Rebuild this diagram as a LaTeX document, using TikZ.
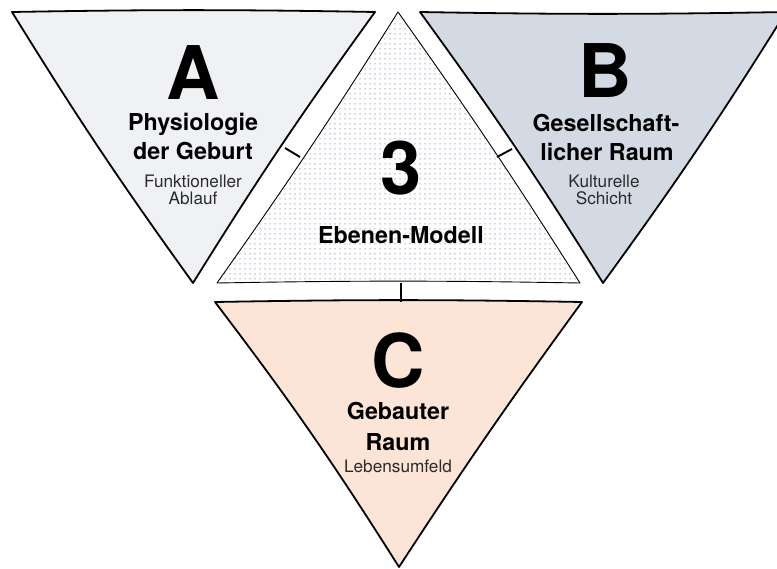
\documentclass[tikz,border=0pt]{standalone}
\usepackage{fontspec}
\setmainfont{TeX Gyre Heros}
\usetikzlibrary{patterns.meta}
\definecolor{fillA}{HTML}{EFF1F5}
\definecolor{fillB}{HTML}{D4DAE4}
\definecolor{fillC}{HTML}{FCE4D6}
\definecolor{dotc}{HTML}{9CA8C0}
\definecolor{subc}{HTML}{2B2B2B}
\begin{document}
\begin{tikzpicture}[x=1pt,y=-1pt,
  tri/.style={draw=black, line width=1.8pt, line join=round},
  midtri/.style={draw=black, line width=0.9pt, line join=round},
  link/.style={draw=black, line width=1.9pt},
  big/.style={anchor=base, inner sep=0pt, font=\bfseries\fontsize{74}{80}\selectfont},
  ttl/.style={anchor=base, inner sep=0pt, font=\bfseries\fontsize{23.3}{27}\selectfont},
  sub/.style={anchor=base, inner sep=0pt, text=subc, font=\fontsize{17.2}{19}\selectfont}]
\useasboundingbox (0,0) rectangle (777,569);
\begin{scope}
\clip (0,0) rectangle (777,569);
% corners
\coordinate (A1) at (12,12);  \coordinate (A2) at (375,12);  \coordinate (A3) at (193,283);
\coordinate (M1) at (217,283); \coordinate (M2) at (580,283); \coordinate (M3) at (398,12);
\coordinate (B1) at (420,12); \coordinate (B2) at (786,12);  \coordinate (B3) at (603,283);
\coordinate (C1) at (215,302); \coordinate (C2) at (582,302); \coordinate (C3) at (399,567);
% triangle A
\draw[tri, fill=fillA] (A1) to[bend left=1] (A2) to[bend right=2] (A3) to[bend left=2] (A1) -- cycle;
% triangle B
\draw[tri, fill=fillB] (B1) to[bend right=1] (B2) to[bend left=2] (B3) to[bend right=2] (B1) -- cycle;
% triangle C
\draw[tri, fill=fillC] (C1) to[bend left=1] (C2) to[bend right=1.5] (C3) to[bend right=2.5] (C1) -- cycle;
% middle triangle
\fill[white] (M1) to[bend left=1] (M2) to[bend right=1.5] (M3) to[bend left=1.5] (M1) -- cycle;
\fill[pattern={Dots[distance=5pt, radius=0.75pt]}, pattern color=dotc]
  (M1) to[bend left=1] (M2) to[bend right=1.5] (M3) to[bend left=1.5] (M1) -- cycle;
\draw[midtri] (M1) to[bend left=1] (M2) to[bend right=1.5] (M3) to[bend left=1.5] (M1) -- cycle;
\end{scope}
% connectors
\coordinate (la) at (285,148); \coordinate (ma) at (300,157);
\coordinate (lb) at (512,149); \coordinate (mb) at (497,157);
\coordinate (mc) at (401,283); \coordinate (lc) at (401,302);
\draw[link] (la) -- (ma);
\draw[link] (mb) -- (lb);
\draw[link] (mc) -- (lc);
% texts A
\node[big] (tA) at (193,100) {A};
\node[ttl] (tA1) at (193,131) {Physiologie};
\node[ttl] (tA2) at (193,160) {der Geburt};
\node[sub] (tA3) at (193,187.5) {Funktioneller};
\node[sub] (tA4) at (193,205) {Ablauf};
% texts middle
\node[big] (tM) at (401,195) {3};
\node[ttl] (tM1) at (401,244) {Ebenen-Modell};
% texts B
\node[big] (tB) at (605,98) {B};
\node[ttl] (tB1) at (606,132) {Gesellschaft-};
\node[ttl] (tB2) at (607,161) {licher Raum};
\node[sub] (tB3) at (604,188) {Kulturelle};
\node[sub] (tB4) at (604,205) {Schicht};
% texts C
\node[big] (tC) at (398,388) {C};
\node[ttl] (tC1) at (398,420) {Gebauter};
\node[ttl] (tC2) at (398,450) {Raum};
\node[sub] (tC3) at (398,472) {Lebensumfeld};
\end{tikzpicture}
\end{document}
